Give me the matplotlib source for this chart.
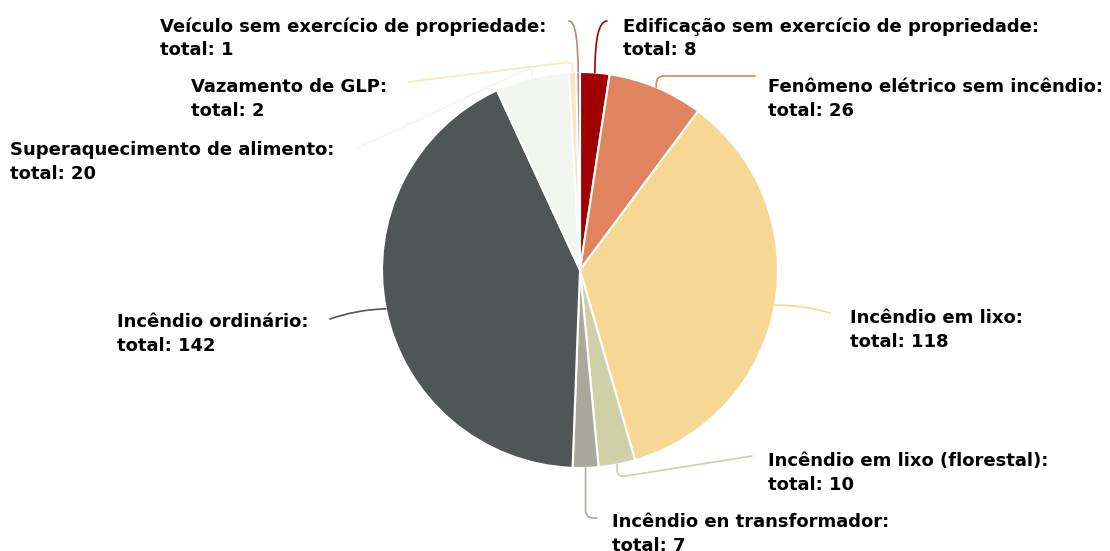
import numpy as np
import matplotlib.pyplot as plt

labels = ['Edificação sem exercício de propriedade', 'Fenômeno elétrico sem incêndio',
          'Incêndio em lixo', 'Incêndio em lixo (florestal)', 'Incêndio en transformador',
          'Incêndio ordinário', 'Superaquecimento de alimento', 'Vazamento de GLP',
          'Veículo sem exercício de propriedade']
totals = [8, 26, 118, 10, 7, 142, 20, 2, 1]
colors = ['#a00000', '#e08460', '#f7d794', '#d0d0a8', '#a8a89b',
          '#505555', '#f3f6f0', '#f6e8c3', '#c47f7f']

# text anchor (left x, top y in pixels), leader end (pixels), connection style
text_pos = [(623, 17), (768, 78), (850, 309), (768, 452), (612, 513),
            (117, 313), (10, 141), (191, 78), (160, 17)]
leader_end = [(607, 21), (755, 76), (830, 313), (752, 456), (597, 518),
              (330, 319), (358, 148), (408, 82), (569, 21)]
styles = ['angle3,angleA=0,angleB=90',
          'angle,angleA=0,angleB=90,rad=8',
          'arc3,rad=0.08',
          'angle,angleA=9,angleB=90,rad=8',
          'angle,angleA=0,angleB=90,rad=8',
          'arc3,rad=-0.08',
          'angle,angleA=25,angleB=90,rad=6',
          'angle,angleA=7,angleB=90,rad=6',
          'angle3,angleA=0,angleB=90']

W, H = 1110, 551
cx, cy, r = 580, 270, 198

fig = plt.figure(figsize=(W / 100, H / 100), dpi=100)
ax = fig.add_axes([0, 0, 1, 1])

wedges, _ = ax.pie(totals, colors=colors, startangle=90, counterclock=False,
                   center=(cx, H - cy), radius=r,
                   wedgeprops=dict(edgecolor='white', linewidth=1.5))
ax.set_xlim(0, W)
ax.set_ylim(0, H)
ax.set_aspect('equal')
ax.axis('off')

for i, w in enumerate(wedges):
    mid = np.deg2rad((w.theta1 + w.theta2) / 2)
    px = cx + r * np.cos(mid)
    py = H - cy + r * np.sin(mid)
    ex, ey = leader_end[i]
    ax.annotate('', xy=(px, py), xytext=(ex, H - ey),
                arrowprops=dict(arrowstyle='-', color=colors[i], lw=1.2,
                                shrinkA=0, shrinkB=0,
                                connectionstyle=styles[i]))
    tx, ty = text_pos[i]
    ax.text(tx, H - ty, labels[i] + ':\ntotal: ' + str(totals[i]),
            ha='left', va='top', fontsize=13, fontweight='bold',
            linespacing=1.4)

fig.savefig('out.png', dpi=100)
